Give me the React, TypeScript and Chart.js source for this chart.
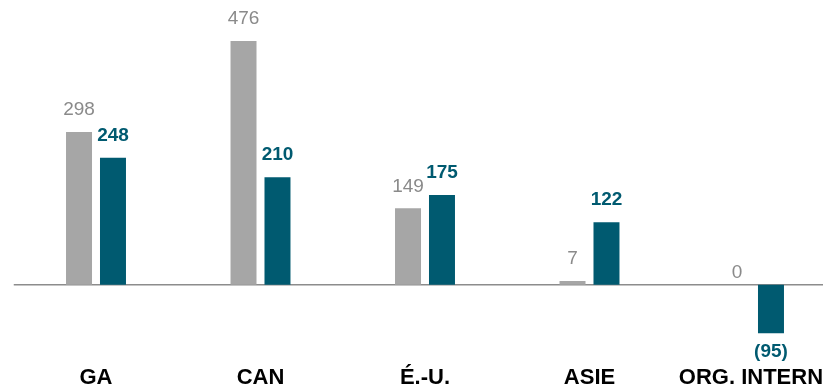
import React, { useEffect, useRef } from "react";
import { Chart, registerables } from "chart.js";

Chart.register(...registerables);

const categories = ["GA", "CAN", "É.-U.", "ASIE", "ORG. INTERN."];
const seriesPrev = [298, 476, 149, 7, 0];
const seriesCurr = [248, 210, 175, 122, -95];

const GRAY = "#a6a6a6";
const GRAY_TEXT = "#8a8a8a";
const TEAL = "#005a70";
const FONT = "'Liberation Sans Narrow', 'Arial Narrow', 'Liberation Sans', Arial, sans-serif";

const labelPlugin = {
  id: "valueLabels",
  beforeDatasetsDraw(chart: any) {
    const { ctx, chartArea, scales } = chart;
    const y0 = scales.y.getPixelForValue(0);
    ctx.save();
    ctx.strokeStyle = "#8c8c8c";
    ctx.lineWidth = 1.5;
    ctx.beginPath();
    ctx.moveTo(chartArea.left, y0);
    ctx.lineTo(chartArea.right, y0);
    ctx.stroke();
    ctx.restore();
  },
  afterDatasetsDraw(chart: any) {
    const { ctx } = chart;
    ctx.save();
    ctx.textAlign = "center";
    ctx.textBaseline = "middle";
    chart.data.datasets.forEach((ds: any, di: number) => {
      const meta = chart.getDatasetMeta(di);
      meta.data.forEach((el: any, i: number) => {
        const v = ds.data[i] as number;
        const text = v < 0 ? `(${-v})` : `${v}`;
        let y: number;
        if (v > 0) y = el.y - 22;
        else if (v === 0) y = el.y - 12;
        else y = el.y + 18;
        if (di === 0) {
          ctx.font = `19px ${FONT}`;
          ctx.fillStyle = GRAY_TEXT;
        } else {
          ctx.font = `bold 19px ${FONT}`;
          ctx.fillStyle = TEAL;
        }
        ctx.fillText(text, el.x, y);
      });
    });
    ctx.restore();
  },
};

export default function App() {
  const ref = useRef<HTMLCanvasElement>(null);
  useEffect(() => {
    if (!ref.current) return;
    const chart = new Chart(ref.current, {
      type: "bar",
      data: {
        labels: categories,
        datasets: [
          {
            label: "Précédent",
            data: seriesPrev,
            backgroundColor: GRAY,
            categoryPercentage: 0.413,
            barPercentage: 0.765,
          },
          {
            label: "Actuel",
            data: seriesCurr,
            backgroundColor: TEAL,
            categoryPercentage: 0.413,
            barPercentage: 0.765,
          },
        ],
      },
      options: {
        responsive: false,
        animation: false,
        layout: { padding: { left: 13.75, right: 3.75, top: 0, bottom: 0 } },
        plugins: {
          legend: { display: false },
          tooltip: { enabled: false },
          title: { display: false },
        },
        scales: {
          x: {
            grid: { display: false, drawTicks: false },
            border: { display: false },
            ticks: {
              color: "#000",
              padding: 3,
              maxRotation: 0,
              autoSkip: false,
              font: { family: FONT, size: 22, weight: "bold", lineHeight: 1 },
            },
          },
          y: {
            display: false,
            min: -155,
            max: 556,
          },
        },
      },
      plugins: [labelPlugin],
    });
    return () => chart.destroy();
  }, []);
  return (
    <div style={{ position: "fixed", left: 0, top: 0, width: 823, height: 392, overflow: "hidden", background: "#fff" }}>
      <canvas ref={ref} width={840} height={392} />
    </div>
  );
}
